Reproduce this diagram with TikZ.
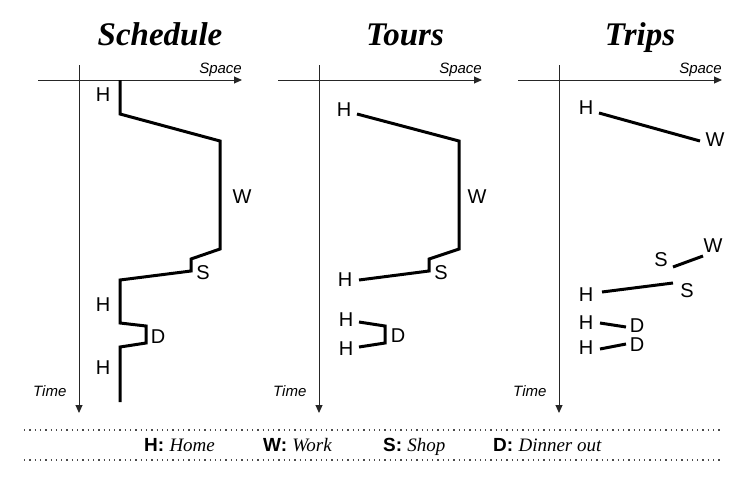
\documentclass[tikz,border=0pt]{standalone}
\usepackage{fontspec}
\setmainfont{Liberation Serif}
\setsansfont{Liberation Sans}
\usetikzlibrary{arrows.meta,positioning}
\tikzset{>={Triangle[length=8pt,width=7pt]}}
\tikzset{
    axis/.style={draw=black!85,line width=1pt,->},
    path/.style={draw=black,line width=3pt,line join=miter},
    lbl/.style={inner sep=0pt,font=\sffamily\fontsize{20}{23}\selectfont},
    ttl/.style={inner sep=0pt,anchor=base,font=\rmfamily\bfseries\itshape\fontsize{33}{38}\selectfont},
    axlbl/.style={inner sep=0pt,font=\sffamily\itshape\fontsize{15}{18}\selectfont},
    key/.style={inner sep=0pt,anchor=base west,font=\fontsize{19}{22}\selectfont},
    sep/.style={draw=black!70,line width=1.3pt,dash pattern=on 1.3pt off 4pt}
}

\begin{document}
\begin{tikzpicture}[x=1pt,y=-1pt]
    \useasboundingbox (0,0) rectangle (741,479);
    % three panels, each with its own axes
    \foreach \dx/\ttext/\tx in {0/Schedule/160,240/Tours/165,480/Trips/160}{
        \begin{scope}[xshift=\dx]
            \node[ttl] (title\dx) at (\tx,45) {\ttext};
            \draw[axis] (38,80) -- (242,80);
            \draw[axis] (79,65) -- (79,413);
            \node[axlbl,anchor=base east] (space\dx) at (242,73) {Space};
            \node[axlbl,anchor=base west] (time\dx) at (33,396) {Time};
        \end{scope}
    }
    % Schedule
    \draw[path] (120,80) -- (120,114) -- (220,141) -- (220,249) -- (191,259)
        -- (191,271) -- (120,280) -- (120,323) -- (146,326) -- (146,343)
        -- (120,347) -- (120,402);
    \node[lbl] (sh1) at (103,95)  {H};
    \node[lbl] (sw)  at (242,197) {W};
    \node[lbl] (ss)  at (203,273) {S};
    \node[lbl] (sh2) at (103,305) {H};
    \node[lbl] (sd)  at (158,337) {D};
    \node[lbl] (sh3) at (103,368) {H};
    % Tours
    \begin{scope}[xshift=240]
        \draw[path] (117,114) -- (219,141) -- (219,249) -- (189,259)
            -- (189,271) -- (119,280);
        \draw[path] (119,322) -- (145,326) -- (145,343) -- (119,347);
        \node[lbl] (th1) at (104,110) {H};
        \node[lbl] (tw)  at (237,197) {W};
        \node[lbl] (ts)  at (201,273) {S};
        \node[lbl] (th2) at (105,280) {H};
        \node[lbl] (th3) at (106,320) {H};
        \node[lbl] (td)  at (158,336) {D};
        \node[lbl] (th4) at (106,349) {H};
    \end{scope}
    % Trips
    \begin{scope}[xshift=480]
        \node[lbl] (rh1) at (106,108) {H};
        \node[lbl] (rw1) at (235,140) {W};
        \node[lbl] (rs1) at (181,260) {S};
        \node[lbl] (rw2) at (233,246) {W};
        \node[lbl] (rh2) at (106,295) {H};
        \node[lbl] (rs2) at (207,291) {S};
        \node[lbl] (rh3) at (106,323) {H};
        \node[lbl] (rd1) at (157,326) {D};
        \node[lbl] (rh4) at (106,348) {H};
        \node[lbl] (rd2) at (157,345) {D};
        \draw[path] (119,113) -- (220,141);
        \draw[path] (193,267) -- (223,256);
        \draw[path] (122,292) -- (193,283);
        \draw[path] (120,323) -- (146,327);
        \draw[path] (120,349) -- (146,344);
    \end{scope}
    % key
    \draw[sep] (24,430) -- (723,430);
    \draw[sep] (24,460) -- (723,460);
    \node[key] (kh) at (144,451) {\sffamily\bfseries H:\ \normalfont\itshape Home};
    \node[key] (kw) at (263,451) {\sffamily\bfseries W:\ \normalfont\itshape Work};
    \node[key] (ks) at (383,451) {\sffamily\bfseries S:\ \normalfont\itshape Shop};
    \node[key] (kd) at (493,451) {\sffamily\bfseries D:\ \normalfont\itshape Dinner out};
\end{tikzpicture}
\end{document}
